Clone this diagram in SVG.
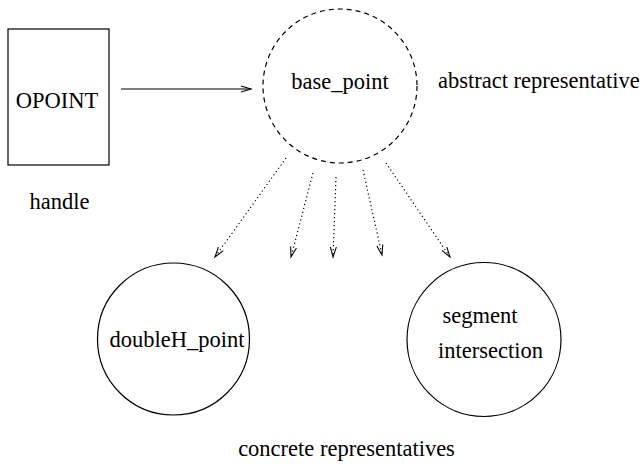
<svg xmlns="http://www.w3.org/2000/svg" width="642" height="464" viewBox="0 0 642 464">
<style>
text { font-family: "Liberation Serif", "Times New Roman", serif; font-size: 22.5px; fill: #000; }
.mid { text-anchor: middle; }
.node { fill: none; stroke: #000; stroke-width: 1.2; }
.dashed { stroke-dasharray: 5 4; }
.conn { fill: none; stroke: #000; stroke-width: 1.2; }
.dotted { stroke-dasharray: 1.2 2.8; }
</style>
<defs>
<marker id="arrow" markerUnits="userSpaceOnUse" markerWidth="12" markerHeight="8" refX="10" refY="3" orient="auto" overflow="visible">
<path d="M0,0 L10,3 L0,6" fill="none" stroke="#000" stroke-width="1.1" stroke-dasharray="none"/>
</marker>
</defs>
<rect width="642" height="464" fill="#fff"/>
<g id="opoint">
<rect class="node" x="8" y="29" width="101" height="136"/>
<text class="mid" x="57" y="108">OPOINT</text>
</g>
<g id="handle-label">
<text class="mid" x="59.5" y="209">handle</text>
</g>
<g id="base_point">
<circle class="node dashed" cx="340" cy="86" r="77"/>
<text class="mid" x="340" y="89">base_point</text>
</g>
<g id="abstract-label">
<text x="438" y="88">abstract representative</text>
</g>
<g id="doubleH_point">
<circle class="node" cx="173.5" cy="339" r="76"/>
<text class="mid" x="177" y="347">doubleH_point</text>
</g>
<g id="segment_intersection">
<circle class="node" cx="484" cy="339.5" r="77"/>
<text class="mid" x="480" y="323">segment</text>
<text class="mid" x="490.5" y="358">intersection</text>
</g>
<g id="concrete-label">
<text class="mid" x="346.5" y="456">concrete representatives</text>
</g>
<g id="connectors">
<line class="conn" x1="121" y1="89" x2="251" y2="89" marker-end="url(#arrow)"/>
<line class="conn dotted" x1="286" y1="158" x2="215" y2="257" marker-end="url(#arrow)"/>
<line class="conn dotted" x1="313" y1="173" x2="291" y2="257" marker-end="url(#arrow)"/>
<line class="conn dotted" x1="336" y1="177" x2="333" y2="257" marker-end="url(#arrow)"/>
<line class="conn dotted" x1="363" y1="170" x2="382" y2="255" marker-end="url(#arrow)"/>
<line class="conn dotted" x1="386" y1="163" x2="450" y2="257" marker-end="url(#arrow)"/>
</g>
</svg>
